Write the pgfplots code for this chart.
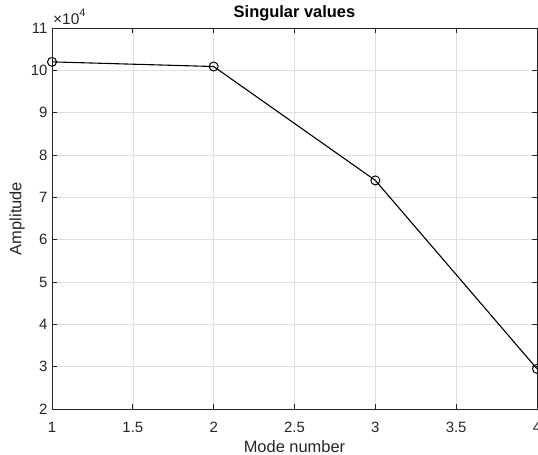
\documentclass[border=0pt]{standalone}
\usepackage{pgfplots}
\pgfplotsset{compat=1.18}
\usepackage{fontspec}
\setmainfont{Liberation Sans}
\definecolor{axgray}{RGB}{38,38,38}
\definecolor{gridgray}{RGB}{223,223,223}
\begin{document}
\begin{tikzpicture}
\begin{axis}[
  scale only axis,
  width=485bp, height=381bp,
  xmin=1, xmax=4, ymin=2, ymax=11,
  xtick={1,1.5,...,4},
  ytick={2,3,...,11},
  /pgf/number format/assume math mode=true,
  tick label style={font=\fontsize{15}{17}\selectfont, color=axgray},
  xticklabel style={anchor=base, yshift=-23bp},
  yticklabel style={anchor=east, xshift=-1bp},
  grid=major,
  major grid style={gridgray, line width=0.6bp},
  axis line style={axgray, line width=0.7bp},
  tick style={axgray, line width=0.7bp},
  tick align=inside,
  major tick length=5bp,
  xlabel={Mode number},
  ylabel={Amplitude},
  label style={font=\fontsize{16.5}{18}\selectfont, color=axgray},
  xlabel style={at={(axis description cs:0.5,0)}, anchor=center, yshift=-38bp},
  ylabel style={at={(axis description cs:0,0.5)}, anchor=center, yshift=35bp},
  title={\textbf{Singular values}},
  title style={font=\fontsize{16.5}{18}\selectfont, at={(axis description cs:0.5,1)}, anchor=base, yshift=5bp},
  clip=false,
]
\addplot[black, line width=1.1bp, mark=o, mark size=4.5bp, mark options={line width=1bp}]
  coordinates {(1,10.20) (2,10.09) (3,7.40) (4,2.95)};
\node[anchor=base west, inner sep=0pt, font=\fontsize{15.5}{17}\selectfont, color=axgray]
  at (rel axis cs:0,1) [xshift=1bp, yshift=4bp] {×10\raisebox{0.5em}{\fontsize{11}{12}\selectfont 4}};
\end{axis}
\pgfresetboundingbox
\path (-52bp,-46bp) rectangle (486bp,409bp);
\end{tikzpicture}
\end{document}
